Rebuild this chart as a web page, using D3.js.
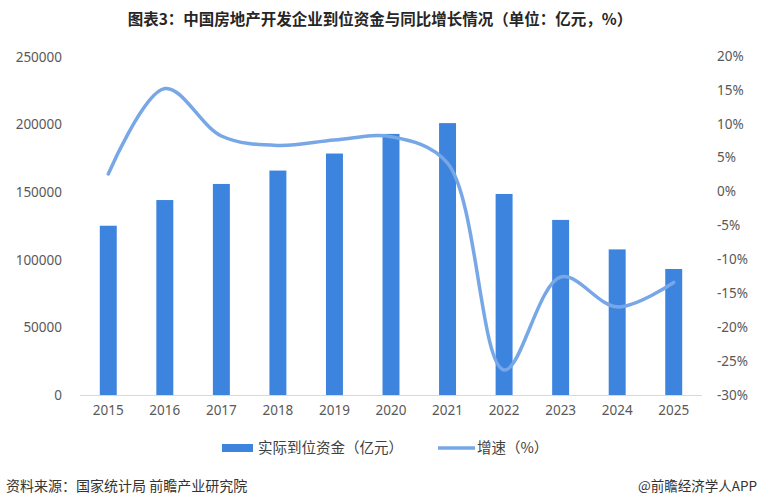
<!DOCTYPE html>
<html>
<head>
<meta charset="utf-8">
<script src="https://cdn.jsdelivr.net/npm/d3@7/dist/d3.min.js"></script>
<style>
  body { margin: 0; background: #fff; }
  svg { display: block; font-family: "Noto Sans", "Noto Sans CJK SC", sans-serif; }
</style>
</head>
<body>
<div id="chart"></div>
<script>
// Data
const years = ['2015', '2016', '2017', '2018', '2019', '2020', '2021', '2022', '2023', '2024', '2025'];
const funds = [125200, 144200, 156100, 166000, 178600, 193100, 201100, 148700, 129500, 107700, 93200];
const growth = [2.6, 15.2, 8.2, 6.8, 7.6, 8.1, 4.2, -26.3, -12.6, -17.0, -13.4];
const leftTicks = [0, 50000, 100000, 150000, 200000, 250000];
const rightTicks = [20, 15, 10, 5, 0, -5, -10, -15, -20, -25, -30];

const width = 760, height = 502;
const margin = { top: 56, right: 56, bottom: 107, left: 80 };
const barColor = '#3d84de';
const lineColor = '#77a7e6';
const tickColor = '#595959';
const cjk = '"Noto Sans CJK SC", sans-serif';

const svg = d3.select('#chart').append('svg')
  .attr('width', width)
  .attr('height', height);

// Title
svg.append('text')
  .attr('x', 380)
  .attr('y', 25)
  .attr('text-anchor', 'middle')
  .style('font-family', cjk)
  .style('font-size', '15.5px')
  .style('font-weight', '700')
  .attr('fill', '#262626')
  .text('图表3：中国房地产开发企业到位资金与同比增长情况（单位：亿元，%）');

const x = d3.scaleBand()
  .domain(years)
  .range([margin.left, width - margin.right - 2])
  .paddingInner(0.7)
  .paddingOuter(0.35);

const yL = d3.scaleLinear()
  .domain([0, 250000])
  .range([height - margin.bottom, margin.top + 1]);

const yR = d3.scaleLinear()
  .domain([-30, 20])
  .range([height - margin.bottom, margin.top]);

// Baseline
svg.append('line')
  .attr('x1', margin.left)
  .attr('x2', width - margin.right - 2)
  .attr('y1', yL(0) + 0.5)
  .attr('y2', yL(0) + 0.5)
  .attr('stroke', '#d9d9d9');

// Left axis labels
svg.selectAll('.ltick')
  .data(leftTicks)
  .join('text')
  .attr('class', 'ltick')
  .attr('x', 62)
  .attr('y', d => yL(d))
  .attr('dy', '0.35em')
  .attr('text-anchor', 'end')
  .style('font-size', '13.5px')
  .attr('fill', tickColor)
  .text(d => d);

// Right axis labels
svg.selectAll('.rtick')
  .data(rightTicks)
  .join('text')
  .attr('class', 'rtick')
  .attr('x', 717)
  .attr('y', d => yR(d))
  .attr('dy', '0.35em')
  .attr('text-anchor', 'start')
  .style('font-size', '13.5px')
  .attr('fill', tickColor)
  .text(d => d + '%');

// Year labels
svg.selectAll('.xtick')
  .data(years)
  .join('text')
  .attr('class', 'xtick')
  .attr('x', d => x(d) + x.bandwidth() / 2)
  .attr('y', yL(0) + 20)
  .attr('text-anchor', 'middle')
  .style('font-size', '13.5px')
  .attr('fill', tickColor)
  .text(d => d);

// Bars
svg.selectAll('.bar')
  .data(years.map((y, i) => ({ year: y, value: funds[i] })))
  .join('rect')
  .attr('class', 'bar')
  .attr('x', d => x(d.year))
  .attr('y', d => yL(d.value))
  .attr('width', x.bandwidth())
  .attr('height', d => yL(0) - yL(d.value))
  .attr('fill', barColor);

// Growth line (smoothed)
const line = d3.line()
  .x((d, i) => x(years[i]) + x.bandwidth() / 2)
  .y(d => yR(d))
  .curve(d3.curveCatmullRom.alpha(0.5));

svg.append('path')
  .datum(growth)
  .attr('d', line)
  .attr('fill', 'none')
  .attr('stroke', lineColor)
  .attr('stroke-width', 3.5)
  .attr('stroke-linecap', 'round');

// Legend
const lg = svg.append('g').attr('transform', 'translate(0,448)');
lg.append('rect')
  .attr('x', 222).attr('y', -4)
  .attr('width', 31).attr('height', 8)
  .attr('fill', barColor);
lg.append('text')
  .attr('x', 258).attr('y', 0).attr('dy', '0.35em')
  .style('font-family', cjk)
  .style('font-size', '14.5px')
  .attr('fill', '#404040')
  .text('实际到位资金（亿元）');
lg.append('line')
  .attr('x1', 438).attr('x2', 475)
  .attr('y1', 0).attr('y2', 0)
  .attr('stroke', lineColor)
  .attr('stroke-width', 3.5);
lg.append('text')
  .attr('x', 477).attr('y', 0).attr('dy', '0.35em')
  .style('font-family', cjk)
  .style('font-size', '14.5px')
  .attr('fill', '#404040')
  .text('增速（%）');

// Footer
svg.append('text')
  .attr('x', 6).attr('y', 491)
  .style('font-family', cjk)
  .style('font-size', '14px')
  .attr('fill', '#333')
  .text('资料来源：国家统计局 前瞻产业研究院');
svg.append('text')
  .attr('x', 757).attr('y', 491)
  .attr('text-anchor', 'end')
  .style('font-family', cjk)
  .style('font-size', '13.5px')
  .attr('fill', '#333')
  .text('@前瞻经济学人APP');
</script>
</body>
</html>
